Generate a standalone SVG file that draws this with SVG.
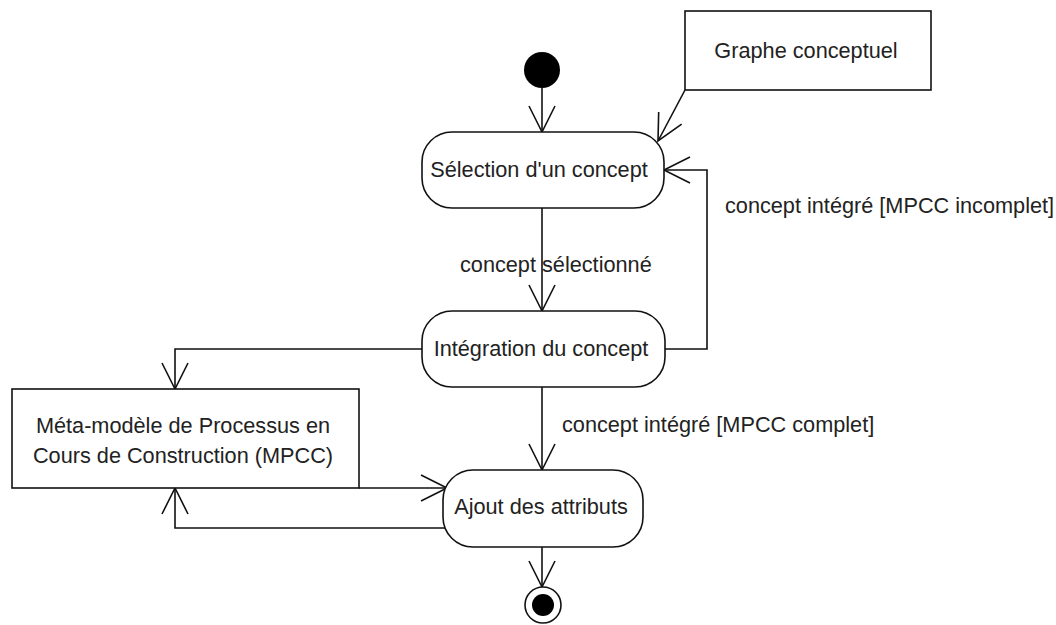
<svg xmlns="http://www.w3.org/2000/svg" width="1056" height="625" viewBox="0 0 1056 625">
<style>
text{font-family:"Liberation Sans",Arial,sans-serif;font-size:21.7px;fill:#222}
.n{fill:#fff;stroke:#111;stroke-width:1.6}
.c{fill:none;stroke:#111;stroke-width:1.6}
.m{text-anchor:middle}
</style>
<defs>
<marker id="a" viewBox="-28 -15 30 30" markerWidth="30" markerHeight="30" refX="0" refY="0" orient="auto" markerUnits="userSpaceOnUse">
<path d="M-26,-13 L0,0 L-26,13" fill="none" stroke="#111" stroke-width="1.6"/>
</marker>
</defs>
<g id="connectors">
<line class="c" x1="542" y1="88" x2="542" y2="132" marker-end="url(#a)"/>
<line class="c" x1="685" y1="90" x2="658" y2="141" marker-end="url(#a)"/>
<line class="c" x1="542" y1="208" x2="542" y2="311" marker-end="url(#a)"/>
<polyline class="c" points="665,349 707,349 707,170 664,170" marker-end="url(#a)"/>
<polyline class="c" points="422,349 175,349 175,389" marker-end="url(#a)"/>
<line class="c" x1="542" y1="387" x2="542" y2="470" marker-end="url(#a)"/>
<line class="c" x1="359" y1="488" x2="447" y2="488" marker-end="url(#a)"/>
<polyline class="c" points="445,528 175,528 175,488" marker-end="url(#a)"/>
<line class="c" x1="542" y1="547" x2="542" y2="587" marker-end="url(#a)"/>
<text x="460" y="272">concept sélectionné</text>
<text x="725" y="213">concept intégré [MPCC incomplet]</text>
<text x="562" y="432">concept intégré [MPCC complet]</text>
</g>
<g id="start"><circle cx="542" cy="70" r="18" fill="#000"/></g>
<g id="graphe"><rect class="n" x="685" y="11" width="246" height="79"/><text class="m" x="806" y="58">Graphe conceptuel</text></g>
<g id="selection"><rect class="n" x="422" y="132" width="242" height="76" rx="30"/><text class="m" x="539" y="177">Sélection d'un concept</text></g>
<g id="integration"><rect class="n" x="422" y="311" width="243" height="76" rx="30"/><text class="m" x="541" y="356">Intégration du concept</text></g>
<g id="mpcc"><rect class="n" x="12" y="389" width="347" height="99"/><text class="m" x="183" y="433">Méta-modèle de Processus en</text><text class="m" x="183" y="463">Cours de Construction (MPCC)</text></g>
<g id="ajout"><rect class="n" x="443" y="470" width="200" height="77" rx="30"/><text class="m" x="541" y="514">Ajout des attributs</text></g>
<g id="end"><circle cx="543" cy="605" r="18" fill="#fff" stroke="#111" stroke-width="1.6"/><circle cx="543" cy="605" r="11" fill="#000"/></g>
</svg>
